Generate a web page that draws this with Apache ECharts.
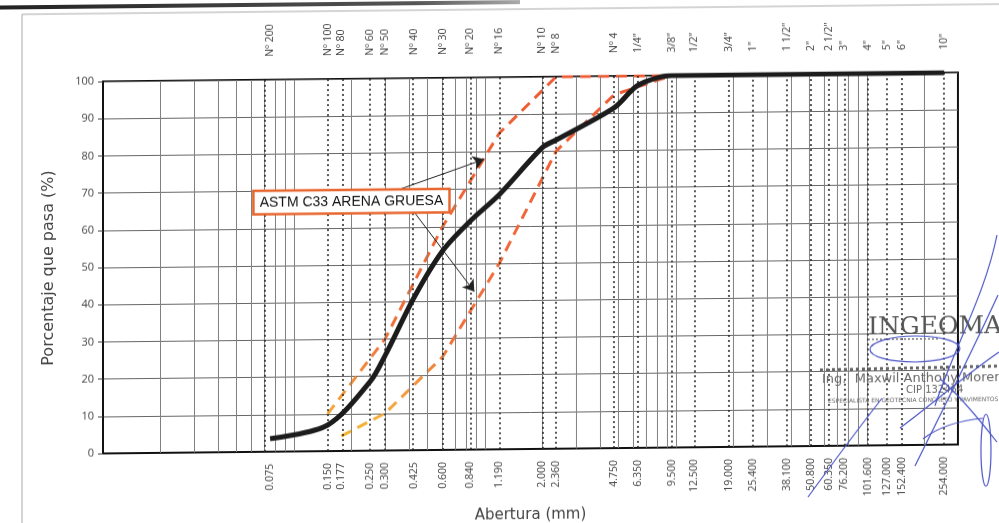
<!DOCTYPE html>
<html><head><meta charset="utf-8">
<script src="https://cdn.jsdelivr.net/npm/echarts@6/dist/echarts.min.js"></script>
<style>
html,body{margin:0;padding:0;background:#fff;overflow:hidden}
#c{width:999px;height:523px;transform:skewY(-0.6deg);transform-origin:530px 262px;}
</style>
</head><body><div id="c"></div>
<script>
// ---- data ----
const sieveSizes = [0.075,0.15,0.177,0.25,0.3,0.425,0.6,0.84,1.19,2.0,2.36,4.75,6.35,9.5,12.5,19,25.4,38.1,50.8,63.5,76.2,101.6,127,152.4,254];
const sieveNames = ['Nº 200','Nº 100','Nº 80','Nº 60','Nº 50','Nº 40','Nº 30','Nº 20','Nº 16','Nº 10','Nº 8','Nº 4','1/4"','3/8"','1/2"','3/4"','1"','1 1/2"','2"','2 1/2"','3"','4"','5"','6"','10"'];
const openingLabels = ['0.075','0.150','0.177','0.250','0.300','0.425','0.600','0.840','1.190','2.000','2.360','4.750','6.350','9.500','12.500','19.000','25.400','38.100','50.800','60.350','76.200','101.600','127.000','152.400','254.000'];
const logGridValues = [0.02,0.03,0.04,0.05,0.06,0.07,0.08,0.09,0.1,0.2,0.3,0.4,0.5,0.6,0.7,0.8,0.9,1,2,3,4,5,6,7,8,9,10,20,30,40,50,60,70,80,90,100,200];
const sampleSizes   = [0.075,0.15,0.25,0.3,0.425,0.6,0.84,1.19,2.0,2.36,4.75,6.35,9.5,12.5,19,25.4,38.1,50.8,63.5,76.2,101.6,127,152.4,254];
const samplePassing = [3.5,7,18.5,25.5,41,53.5,61.5,68.5,81,83,91.5,97.5,100,100,100,100,100,100,100,100,100,100,100,100];
const upperSizes   = [0.15,0.3,0.6,1.19,2.36,4.75,9.5];
const upperPassing = [10,30,60,85,100,100,100];
const lowerSizes   = [0.177,0.3,0.6,1.19,2.36,4.75,9.5];
const lowerPassing = [4,10,25,50,80,95,100];
const annotationText = 'ASTM C33 ARENA GRUESA';

const zip = (a,b) => a.map((v,i)=>[v,b[i]]);
const nearestIdx = v => {
  let best = 0;
  for (let i=1;i<sieveSizes.length;i++){
    if (Math.abs(Math.log(sieveSizes[i])-Math.log(v)) < Math.abs(Math.log(sieveSizes[best])-Math.log(v))) best = i;
  }
  return best;
};
const FONT = 'DejaVu Sans';
const TICKFONT = 'Open Sans';
const limitGradient = {type:'linear', x:0, y:449, x2:0, y2:77, global:true,
  colorStops:[{offset:0,color:'#f2c22a'},{offset:0.12,color:'#f4a33a'},{offset:0.3,color:'#f2703a'},{offset:1,color:'#ef5a32'}]};
const SIG = {stroke:'#4a55c8', lineWidth:1.2, fill:'none'};

const chart = echarts.init(document.getElementById('c'), null, {renderer:'canvas'});
chart.setOption({
  animation:false,
  backgroundColor:'#fff',
  textStyle:{fontFamily:FONT},
  grid:{left:103, right:41, top:77, bottom:74, outerBoundsMode:'none', containLabel:false,
        show:true, borderColor:'#111', borderWidth:2, backgroundColor:'transparent'},
  xAxis:[
    {type:'log', logBase:10, min:0.01, max:300, position:'bottom',
     name:'Abertura (mm)', nameLocation:'middle', nameGap:52,
     nameTextStyle:{fontSize:15, color:'#444', fontFamily:FONT},
     axisLine:{show:true, lineStyle:{color:'#111', width:2}},
     axisTick:{show:false},
     splitLine:{show:false}, minorSplitLine:{show:false},
     axisLabel:{customValues:sieveSizes, rotate:90, margin:12, fontSize:10.5, color:'#444', fontFamily:TICKFONT,
       formatter:v=>openingLabels[nearestIdx(v)]}},
    {type:'log', logBase:10, min:0.01, max:300, position:'top',
     axisLine:{show:false}, axisTick:{show:false}, splitLine:{show:false},
     axisLabel:{customValues:sieveSizes, rotate:-90, margin:23, fontSize:10.5, color:'#444', fontFamily:TICKFONT,
       formatter:v=>sieveNames[nearestIdx(v)]}}
  ],
  yAxis:{type:'value', min:0, max:100, interval:10,
    name:'Porcentaje que pasa (%)', nameLocation:'middle', nameGap:46,
    nameTextStyle:{fontSize:16, color:'#444', fontFamily:FONT},
    axisLine:{show:true, lineStyle:{color:'#111', width:2}},
    axisTick:{show:true, length:5, lineStyle:{color:'#444'}},
    axisLabel:{fontSize:11, color:'#444', margin:9, fontFamily:TICKFONT},
    splitLine:{show:true, lineStyle:{color:'#666', width:1}}},
  series:[
    {name:'grid', type:'line', data:[], silent:true,
     markLine:{silent:true, symbol:'none', animation:false, label:{show:false},
       lineStyle:{color:'#808080', width:1, type:'solid'},
       data:logGridValues.map(v=>({xAxis:v}))}},
    {name:'sieves', type:'line', data:[], silent:true,
     markLine:{silent:true, symbol:'none', animation:false, label:{show:false},
       lineStyle:{color:'#222', width:1.5, type:[2,3]},
       data:sieveSizes.map(v=>({xAxis:v}))}},
    {name:'Límite superior', type:'line', data:zip(upperSizes,upperPassing), symbol:'none', z:3,
     lineStyle:{color:limitGradient, width:3, type:[11,7]}},
    {name:'Límite inferior', type:'line', data:zip(lowerSizes,lowerPassing), symbol:'none', z:3,
     lineStyle:{color:limitGradient, width:3, type:[11,7]}},
    {name:'Muestra', type:'line', data:zip(sampleSizes,samplePassing), symbol:'none', smooth:0.3, z:5,
     lineStyle:{color:'#1c1c1c', width:5}},
    {name:'label', type:'scatter', data:[], z:6,
     markPoint:{silent:true, animation:false, symbol:'rect', symbolSize:[1,1], itemStyle:{color:'rgba(0,0,0,0)'},
       label:{show:true, position:'inside', formatter:annotationText,
         fontFamily:'Liberation Sans', fontSize:14, color:'#111',
         backgroundColor:'#fff', borderColor:'#e8662e', borderWidth:2.5, padding:[4,5,3,5]},
       data:[{coord:[0.2,67]}]}},
    {name:'arrows', type:'line', data:[], z:7,
     markLine:{silent:true, animation:false, symbol:['none','arrow'], symbolSize:11, label:{show:false},
       lineStyle:{color:'#222', width:1, type:'solid'},
       data:[[{coord:[0.35,70]},{coord:[0.99,78]}],[{coord:[0.36,69]},{coord:[0.88,42.5]}]]}}
  ],
  graphic:[
    {type:'rect', z:-10, shape:{x:22,y:9,width:1100,height:700}, style:{fill:'none', stroke:'#aaa', lineWidth:1}},
    {type:'rect', z:-10, shape:{x:0,y:0,width:520,height:4},
     style:{fill:{type:'linear',x:0,y:0,x2:1,y2:0,colorStops:[{offset:0,color:'#222'},{offset:0.8,color:'#555'},{offset:1,color:'#aaa'}]}}},
    {type:'text', z:20, style:{x:868, y:319, text:'INGEOMAX', font:'25px "DejaVu Serif"', fill:'#555'}},
    {type:'line', z:20, shape:{x1:868,y1:343,x2:938,y2:343}, style:{stroke:'#777', lineWidth:1.5, lineDash:[2,2]}},
    {type:'line', z:20, shape:{x1:820,y1:373,x2:1000,y2:371}, style:{stroke:'#666', lineWidth:3, lineDash:[3,3]}},
    {type:'text', z:20, style:{x:822, y:376, text:'Ing.  Maxwil Anthony Moreno', font:'13px "DejaVu Sans"', fill:'#666'}},
    {type:'text', z:20, style:{x:906, y:389, text:'CIP 132464', font:'10px "DejaVu Sans"', fill:'#666'}},
    {type:'text', z:20, style:{x:828, y:401, text:'ESPECIALISTA EN GEOTECNIA CONCRETO Y PAVIMENTOS', font:'6px "DejaVu Sans"', fill:'#666'}},
    {type:'bezierCurve', z:21, shape:{x1:808,y1:500,cpx1:830,cpy1:470,cpx2:860,cpy2:430,x2:882,y2:402}, style:SIG},
    {type:'ellipse', z:21, shape:{cx:915,cy:353,rx:45,ry:13}, style:SIG},
    {type:'bezierCurve', z:21, shape:{x1:915,y1:470,cpx1:940,cpy1:420,cpx2:975,cpy2:350,x2:998,y2:300}, style:SIG},
    {type:'bezierCurve', z:21, shape:{x1:900,y1:432,cpx1:930,cpy1:410,cpx2:965,cpy2:380,x2:999,y2:357}, style:SIG},
    {type:'bezierCurve', z:21, shape:{x1:940,y1:383,cpx1:960,cpy1:400,cpx2:980,cpy2:425,x2:997,y2:447}, style:SIG},
    {type:'ellipse', z:21, shape:{cx:986,cy:455,rx:5,ry:36}, style:SIG},
    {type:'bezierCurve', z:21, shape:{x1:997,y1:240,cpx1:985,cpy1:300,cpx2:955,cpy2:350,x2:935,y2:410}, style:SIG},
    {type:'bezierCurve', z:21, shape:{x1:923,y1:443,cpx1:940,cpy1:430,cpx2:960,cpy2:425,x2:983,y2:423}, style:SIG}
  ]
});
</script>
</body></html>
